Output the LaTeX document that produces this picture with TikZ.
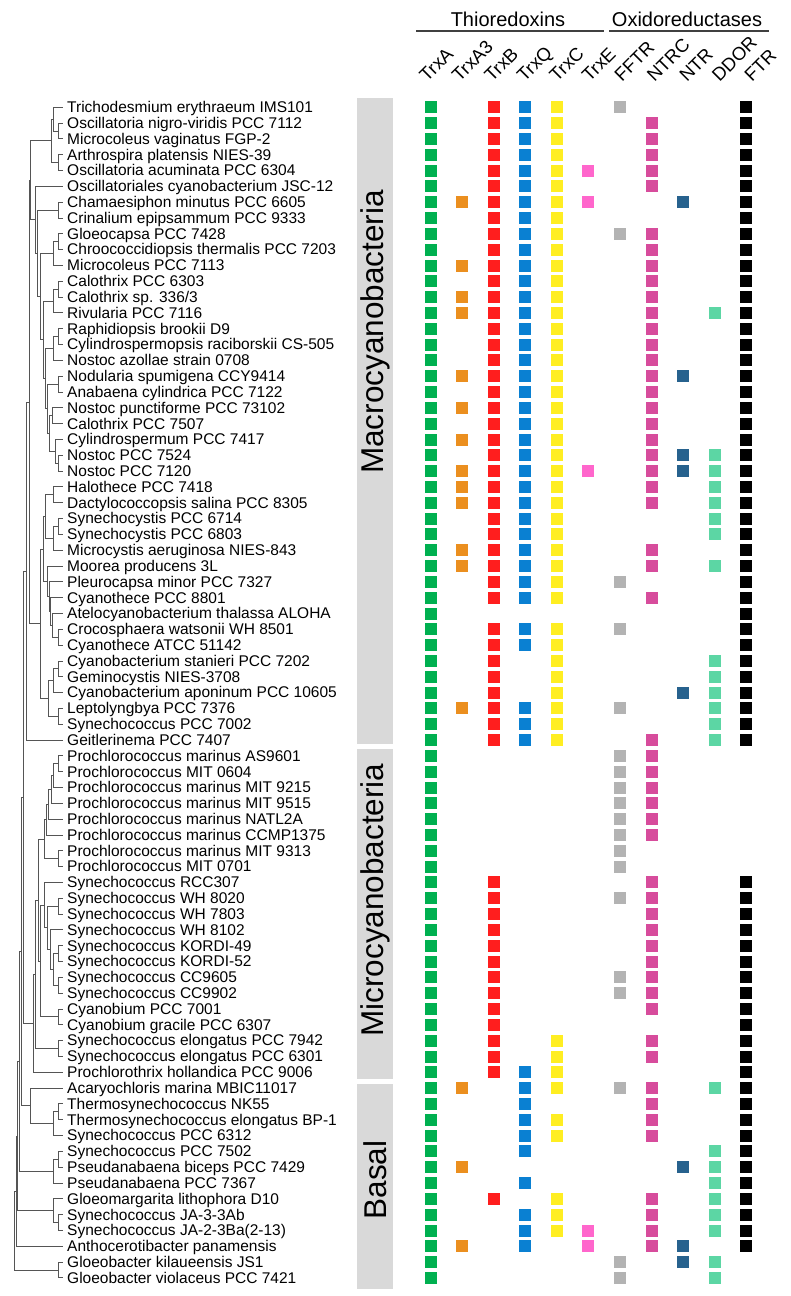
\documentclass[tikz,border=0pt]{standalone}
\usepackage{fontspec}
\setmainfont{Liberation Sans}
\usetikzlibrary{calc}

\definecolor{tx0}{HTML}{00B050}
\definecolor{tx1}{HTML}{EB8F1F}
\definecolor{tx2}{HTML}{FF1E1E}
\definecolor{tx3}{HTML}{0A80D2}
\definecolor{tx4}{HTML}{FFEE22}
\definecolor{tx5}{HTML}{FF66CC}
\definecolor{tx6}{HTML}{B3B3B3}
\definecolor{tx7}{HTML}{D74C9C}
\definecolor{tx8}{HTML}{27628E}
\definecolor{tx9}{HTML}{5CD6A4}
\definecolor{tx10}{HTML}{000000}
\definecolor{branchgray}{HTML}{555555}
\definecolor{bargray}{HTML}{D9D9D9}

% parent at x #2, halfway between its two children
\newcommand\clade[4]{%
	\path let \p1=($(#3)!.5!(#4)$) in coordinate (#1) at (#2pt,\y1);
	\draw[branch] (#1) |- (#3) (#1) |- (#4);
}

\begin{document}
\begin{tikzpicture}[x=1pt, y=-1pt,
	branch/.style={branchgray, line width=1pt},
	species/.style={anchor=base west, inner sep=0pt, font=\fontsize{15.5}{15.5}\selectfont},
	cell/.style={minimum size=12pt, inner sep=0pt, draw=none},
	collab/.style={rotate=45, anchor=base west, inner sep=0pt, font=\fontsize{18.5}{18.5}\selectfont},
	grouplab/.style={anchor=base, inner sep=0pt, font=\fontsize{20}{20}\selectfont},
	headline/.style={black!75, line width=1.3pt},
	barlab/.style={rotate=90, inner sep=0pt, font=\fontsize{31.5}{31.5}\selectfont}]
	\useasboundingbox (0,0) rectangle (791,1296);

	\foreach \r in {1,...,75}
		\coordinate (l\r) at (63,{107.3+15.82*(\r-1)});

	\foreach \nm [count=\r] in {Trichodesmium erythraeum IMS101, Oscillatoria nigro-viridis PCC 7112,
		Microcoleus vaginatus FGP-2, Arthrospira platensis NIES-39, Oscillatoria acuminata PCC 6304,
		Oscillatoriales cyanobacterium JSC-12, Chamaesiphon minutus PCC 6605, Crinalium epipsammum PCC 9333,
		Gloeocapsa PCC 7428, Chroococcidiopsis thermalis PCC 7203, Microcoleus PCC 7113, Calothrix PCC 6303,
		{Calothrix sp. 336/3}, Rivularia PCC 7116, Raphidiopsis brookii D9, Cylindrospermopsis raciborskii CS-505,
		Nostoc azollae strain 0708, Nodularia spumigena CCY9414, Anabaena cylindrica PCC 7122,
		Nostoc punctiforme PCC 73102, Calothrix PCC 7507, Cylindrospermum PCC 7417, Nostoc PCC 7524,
		Nostoc PCC 7120, Halothece PCC 7418, Dactylococcopsis salina PCC 8305, Synechocystis PCC 6714,
		Synechocystis PCC 6803, Microcystis aeruginosa NIES-843, Moorea producens 3L, Pleurocapsa minor PCC 7327,
		Cyanothece PCC 8801, Atelocyanobacterium thalassa ALOHA, Crocosphaera watsonii WH 8501,
		Cyanothece ATCC 51142, Cyanobacterium stanieri PCC 7202, Geminocystis NIES-3708,
		Cyanobacterium aponinum PCC 10605, Leptolyngbya PCC 7376, Synechococcus PCC 7002, Geitlerinema PCC 7407,
		Prochlorococcus marinus AS9601, Prochlorococcus MIT 0604, Prochlorococcus marinus MIT 9215,
		Prochlorococcus marinus MIT 9515, Prochlorococcus marinus NATL2A, Prochlorococcus marinus CCMP1375,
		Prochlorococcus marinus MIT 9313, Prochlorococcus MIT 0701, Synechococcus RCC307, Synechococcus WH 8020,
		Synechococcus WH 7803, Synechococcus WH 8102, Synechococcus KORDI-49, Synechococcus KORDI-52,
		Synechococcus CC9605, Synechococcus CC9902, Cyanobium PCC 7001, Cyanobium gracile PCC 6307,
		Synechococcus elongatus PCC 7942, Synechococcus elongatus PCC 6301, Prochlorothrix hollandica PCC 9006,
		Acaryochloris marina MBIC11017, Thermosynechococcus NK55, Thermosynechococcus elongatus BP-1,
		Synechococcus PCC 6312, Synechococcus PCC 7502, Pseudanabaena biceps PCC 7429, Pseudanabaena PCC 7367,
		Gloeomargarita lithophora D10, Synechococcus JA-3-3Ab, {Synechococcus JA-2-3Ba(2-13)},
		Anthocerotibacter panamensis, Gloeobacter kilaueensis JS1, Gloeobacter violaceus PCC 7421}
		\node[species] (sp\r) at (67,{112.6+15.82*(\r-1)}) {\nm};

	% macrocyanobacteria
	\clade{n23}{58}{l2}{l3}
	\clade{n123}{53}{l1}{n23}
	\clade{n45}{58}{l4}{l5}
	\clade{m1}{51}{n123}{n45}
	\clade{n78}{58}{l7}{l8}
	\clade{n910}{58}{l9}{l10}
	\clade{g1}{53}{n910}{l11}
	\clade{n1213}{58}{l12}{l13}
	\clade{h1}{53}{n1213}{l14}
	\clade{n1516}{58}{l15}{l16}
	\clade{h2}{53}{n1516}{l17}
	\clade{h3}{58}{l18}{l19}
	\clade{h4}{52}{l20}{l21}
	\clade{n2324}{58}{l23}{l24}
	\clade{h5}{55}{l22}{n2324}
	\clade{h45}{49}{h4}{h5}
	\clade{h345}{47}{h3}{h45}
	\clade{h2345}{45}{h2}{h345}
	\clade{hc}{43}{h1}{h2345}
	\clade{gh}{40}{g1}{hc}
	\clade{g2gh}{37}{n78}{gh}
	\clade{o}{35}{l6}{g2gh}
	\clade{top}{30}{m1}{o}
	\clade{s1}{53}{l25}{l26}
	\clade{n2728}{58}{l27}{l28}
	\clade{s2}{53}{n2728}{l29}
	\clade{s12}{45}{s1}{s2}
	\clade{n3435}{58}{l34}{l35}
	\clade{s3a}{52}{l33}{n3435}
	\clade{s3b}{50}{l32}{s3a}
	\clade{s3c}{49}{l31}{s3b}
	\clade{s3}{47}{l30}{s3c}
	\clade{s123}{43}{s12}{s3}
	\clade{n3637}{58}{l36}{l37}
	\clade{t1}{53}{n3637}{l38}
	\clade{t2}{58}{l39}{l40}
	\clade{t12}{48}{t1}{t2}
	\clade{su}{40}{s123}{t12}
	\clade{core}{29}{top}{su}
	\clade{macro}{26}{core}{l41}
	% microcyanobacteria
	\clade{p1}{58}{l42}{l43}
	\clade{p2}{53}{p1}{l44}
	\clade{p3}{51}{p2}{l45}
	\clade{p4}{48}{p3}{l46}
	\clade{p5}{46}{p4}{l47}
	\clade{p6}{58}{l48}{l49}
	\clade{pro}{44}{p5}{p6}
	\clade{q1}{58}{l51}{l52}
	\clade{n5455}{58}{l54}{l55}
	\clade{n5657}{58}{l56}{l57}
	\clade{q2}{53}{n5455}{n5657}
	\clade{q3}{50}{l53}{q2}
	\clade{q4}{47}{q1}{q3}
	\clade{q5}{44}{l50}{q4}
	\clade{cy}{58}{l58}{l59}
	\clade{q6}{40}{q5}{cy}
	\clade{pq}{38}{pro}{q6}
	\clade{se}{58}{l60}{l61}
	\clade{pqs}{35}{pq}{se}
	\clade{micro}{33}{pqs}{l62}
	% basal
	\clade{th12}{58}{l64}{l65}
	\clade{th}{53}{th12}{l66}
	\clade{b1}{30}{l63}{th}
	\clade{mm}{23}{macro}{micro}
	\clade{mmb}{21}{mm}{b1}
	\clade{ps12}{58}{l67}{l68}
	\clade{ps}{53}{ps12}{l69}
	\clade{r1}{19}{mmb}{ps}
	\clade{ja}{58}{l71}{l72}
	\clade{gm}{53}{l70}{ja}
	\clade{r2}{17}{r1}{gm}
	\clade{r3}{16}{r2}{l73}
	\clade{gb}{58}{l74}{l75}
	\clade{root}{14}{r3}{gb}

	\fill[bargray] (357,98) rectangle (393,744);
	\fill[bargray] (357,749) rectangle (393,1079);
	\fill[bargray] (357,1084) rectangle (393,1289);
	\node[barlab] (macrolab) at (375,332) {Macrocyanobacteria};
	\node[barlab] (microlab) at (375,900) {Microcyanobacteria};
	\node[barlab] (basallab) at (375,1180) {Basal};

	\node[grouplab] (thio) at (508,26) {Thioredoxins};
	\node[grouplab] (oxred) at (687,26) {Oxidoreductases};
	\coordinate (thioL) at (416,31);
	\coordinate (thioR) at (604,31);
	\coordinate (oxredL) at (609,31);
	\coordinate (oxredR) at (769,31);
	\draw[headline] (thioL) -- (thioR);
	\draw[headline] (oxredL) -- (oxredR);

	\foreach \lab [count=\i from 0] in {TrxA,TrxA3,TrxB,TrxQ,TrxC,TrxE,FFTR,NTRC,NTR,DDOR,FTR}
		\node[collab] (col\i) at ({427+32.5*\i},83) {\lab};

	\foreach \r/\cs in {1/{0,2,3,4,6,10}, 2/{0,2,3,4,7,10}, 3/{0,2,3,4,7,10}, 4/{0,2,3,4,7,10},
		5/{0,2,3,4,5,7,10}, 6/{0,2,3,4,7,10}, 7/{0,1,2,3,4,5,8,10}, 8/{0,2,3,4,10},
		9/{0,2,3,4,6,7,10}, 10/{0,2,3,4,7,10}, 11/{0,1,2,3,4,7,10}, 12/{0,2,3,4,7,10},
		13/{0,1,2,3,4,7,10}, 14/{0,1,2,3,4,7,9,10}, 15/{0,2,3,4,7,10}, 16/{0,2,3,4,7,10},
		17/{0,2,3,4,7,10}, 18/{0,1,2,3,4,7,8,10}, 19/{0,2,3,4,7,10}, 20/{0,1,2,3,4,7,10},
		21/{0,2,3,4,7,10}, 22/{0,1,2,3,4,7,10}, 23/{0,2,3,4,7,8,9,10}, 24/{0,1,2,3,4,5,7,8,9,10},
		25/{0,1,2,3,4,7,9,10}, 26/{0,1,2,3,4,7,9,10}, 27/{0,2,3,4,9,10}, 28/{0,2,3,4,9,10},
		29/{0,1,2,3,4,7,10}, 30/{0,1,2,3,4,7,9,10}, 31/{0,2,3,4,6,10}, 32/{0,2,3,4,7,10},
		33/{0,10}, 34/{0,2,3,4,6,10}, 35/{0,2,3,4,10}, 36/{0,2,4,9,10},
		37/{0,2,4,9,10}, 38/{0,2,4,8,9,10}, 39/{0,1,2,3,4,6,9,10}, 40/{0,2,3,4,9,10},
		41/{0,2,3,4,7,9,10}, 42/{0,6,7}, 43/{0,6,7}, 44/{0,6,7},
		45/{0,6,7}, 46/{0,6,7}, 47/{0,6,7}, 48/{0,6},
		49/{0,6}, 50/{0,2,7,10}, 51/{0,2,6,7,10}, 52/{0,2,7,10},
		53/{0,2,7,10}, 54/{0,2,7,10}, 55/{0,2,7,10}, 56/{0,2,6,7,10},
		57/{0,2,6,7,10}, 58/{0,2,7,10}, 59/{0,2,10}, 60/{0,2,4,7,10},
		61/{0,2,4,7,10}, 62/{0,2,3,4,10}, 63/{0,1,3,4,6,7,9,10}, 64/{0,3,7,10},
		65/{0,3,4,7,10}, 66/{0,3,4,7,10}, 67/{0,3,9,10}, 68/{0,1,8,9,10},
		69/{0,3,9,10}, 70/{0,2,4,7,9,10}, 71/{0,3,4,7,9,10}, 72/{0,3,4,5,7,9,10},
		73/{0,1,3,5,7,8,10}, 74/{0,6,8,9}, 75/{0,6,9}}
		\foreach \c in \cs
			\node[cell, fill=tx\c] (c\r-\c) at ({430.7+31.55*\c},{107.3+15.82*(\r-1)}) {};
\end{tikzpicture}
\end{document}
